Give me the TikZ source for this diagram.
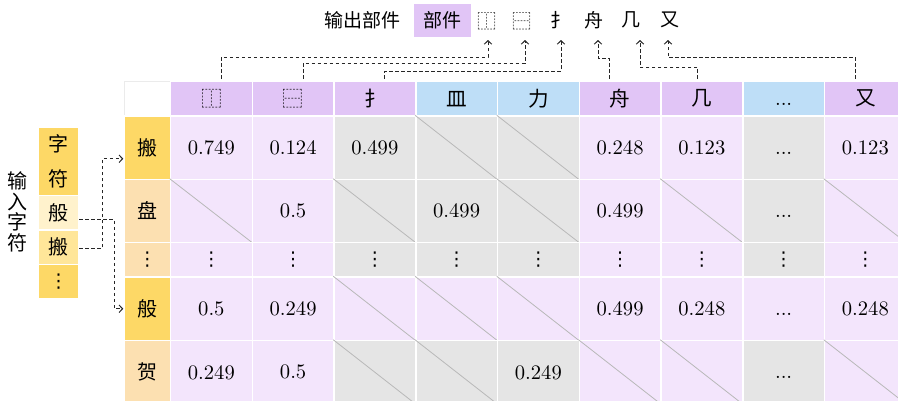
\documentclass[tikz,border=0pt]{standalone}
\usepackage{fontspec}
\newfontfamily\cjk{Noto Sans CJK SC}
\newfontfamily\numfont{lmroman10-regular.otf}
\newfontfamily\symfont{DejaVu Sans}
\usetikzlibrary{arrows.meta}
\definecolor{hdrP}{HTML}{E1C5F6}
\definecolor{hdrB}{HTML}{BEDEF7}
\definecolor{cellP}{HTML}{F3E5FC}
\definecolor{cellG}{HTML}{E5E5E5}
\definecolor{labY}{HTML}{FDD866}
\definecolor{labO}{HTML}{FCE0B1}
\definecolor{stkPale}{HTML}{FFF2CC}
\definecolor{stkMid}{HTML}{FFE699}
\definecolor{diagc}{HTML}{B8B8B8}
\newcommand{\myvdots}{{\symfont\fontsize{19}{22}\selectfont ⋮}}
\newcommand{\myldots}{{\numfont\fontsize{20.6}{24}\selectfont\vphantom{0}...}}
\newcommand{\datarow}[6]{%
  \node[cellbox, minimum height=#3, minimum width=46.5pt, fill=#5, font=\cjk\fontsize{20}{24}\selectfont] (L#1) at (147.25,#2) {#4};
  \foreach \c/\col/\txt/\dg in {#6}{%
    \node[cellbox, minimum height=#3, fill=\col] (c-#1-\c) at ({129.625+81.75*\c},#2) {\txt};
    \ifnum\dg=1 \draw[diagline] (c-#1-\c.north west) -- (c-#1-\c.south east);\fi
  }%
}
\begin{document}
\begin{tikzpicture}[x=1pt,y=-1pt,
  cellbox/.style={draw=white, line width=1.5pt, minimum width=81.75pt, inner sep=0pt, font=\numfont\fontsize{20.6}{24}\selectfont},
  diagline/.style={draw=diagc, line width=0.8pt},
  conn/.style={draw=black!85, line width=1pt, dash pattern=on 3.5pt off 2.5pt, -{Straight Barb[length=3.5pt,width=7.5pt]}},
  toptxt/.style={inner sep=0pt, font=\cjk\fontsize{19}{22}\selectfont},
  stk/.style={draw=white, line width=1.5pt, minimum width=40pt, inner sep=0pt, font=\cjk\fontsize{20}{24}\selectfont}]
\useasboundingbox (0,0) rectangle (898,400);
\clip (0,0) rectangle (898,400);

% header row
\node[cellbox, minimum height=34.5pt, minimum width=46.5pt, fill=white, draw=black!8, line width=0.8pt] (h0) at (147.25,98.75) {};
\foreach \c/\col/\txt in {1/hdrP/{\cjk ⿰}, 2/hdrP/{\cjk ⿱}, 3/hdrP/{\cjk 扌}, 4/hdrB/{\cjk 皿}, 5/hdrB/{\cjk 力}, 6/hdrP/{\cjk 舟}, 7/hdrP/{\cjk 几}, 8/hdrB/{\myldots}, 9/hdrP/{\cjk 又}}{
  \node[cellbox, minimum height=34.5pt, fill=\col] (h\c) at ({129.625+81.75*\c},98.75) {\txt};
}

% data rows
\datarow{1}{147.75}{63.5pt}{搬}{labY}{1/cellP/0.749/0, 2/cellP/0.124/0, 3/cellG/0.499/0, 4/cellG/{}/1, 5/cellG/{}/1, 6/cellP/0.248/0, 7/cellP/0.123/0, 8/cellG/{\myldots}/0, 9/cellP/0.123/0}
\datarow{2}{211}{63pt}{盘}{labO}{1/cellP/{}/1, 2/cellP/0.5/0, 3/cellG/{}/1, 4/cellG/0.499/0, 5/cellG/{}/1, 6/cellP/0.499/0, 7/cellP/{}/1, 8/cellG/{\myldots}/0, 9/cellP/{}/1}
\datarow{3}{259.75}{34.5pt}{\myvdots}{labO}{1/cellP/{\myvdots}/0, 2/cellP/{\myvdots}/0, 3/cellG/{\myvdots}/0, 4/cellG/{\myvdots}/0, 5/cellG/{\myvdots}/0, 6/cellP/{\myvdots}/0, 7/cellP/{\myvdots}/0, 8/cellG/{\myvdots}/0, 9/cellP/{\myvdots}/0}
\datarow{4}{308.75}{63.5pt}{般}{labY}{1/cellP/0.5/0, 2/cellP/0.249/0, 3/cellP/{}/1, 4/cellP/{}/1, 5/cellP/{}/1, 6/cellP/0.499/0, 7/cellP/0.248/0, 8/cellP/{\myldots}/0, 9/cellP/0.248/0}
\datarow{5}{372.25}{63.5pt}{贺}{labO}{1/cellP/0.249/0, 2/cellP/0.5/0, 3/cellG/{}/1, 4/cellG/{}/1, 5/cellG/0.249/0, 6/cellP/{}/1, 7/cellP/{}/1, 8/cellG/{\myldots}/0, 9/cellP/{}/1}

% left input stack
\node[stk, minimum height=68pt, fill=labY, align=center, font=\cjk\fontsize{20}{35}\selectfont] (s1) at (58.5,161.5) {字\\符};
\node[stk, minimum height=34.5pt, fill=stkPale] (s2) at (58.5,212.75) {般};
\node[stk, minimum height=34.5pt, fill=stkMid] (s3) at (58.5,247.25) {搬};
\node[stk, minimum height=34pt, fill=labY] (s4) at (58.5,281.5) {\myvdots};
\node[inner sep=0pt, align=center, font=\cjk\fontsize{20}{20.7}\selectfont] (inlbl) at (18,212) {输\\入\\字\\符};

\draw[conn] ([yshift=-7pt]s2.east) -- ++(35,0) |- (L4.west);
\draw[conn] ([yshift=-1pt]s3.east) -- ++(23,0) |- ([yshift=-11pt]L1.west);

% top output labels
\node[toptxt] (outlbl) at (362,20) {输出部件};
\node[toptxt, fill=hdrP, minimum width=57pt, minimum height=33pt] (bj) at (442.5,20.5) {部件};
\node[toptxt] (g1) at (487,21) {⿰};
\node[toptxt] (g2) at (522,21) {⿱};
\node[toptxt] (g3) at (560,20) {扌};
\node[toptxt] (g4) at (594,20) {舟};
\node[toptxt] (g5) at (631,20) {几};
\node[toptxt] (g6) at (670,20) {又};
\coordinate (t1) at (488,40);
\coordinate (t2) at (525,40);
\coordinate (t3) at (561,40);
\coordinate (t4) at (598,40);
\coordinate (t5) at (640,40);
\coordinate (t6) at (668,40);

\draw[conn] ([xshift=10pt,yshift=2pt]h1.north) -- ++(0,-21.5) -| (t1);
\draw[conn] ([xshift=10pt,yshift=2pt]h2.north) -- ++(0,-15.5) -| (t2);
\draw[conn] ([xshift=10pt,yshift=2pt]h3.north) -- ++(0,-7.5) -| (t3);
\draw[conn] ([xshift=-11pt,yshift=2pt]h6.north) -- ++(0,-20.5) -| (t4);
\draw[conn] ([xshift=-4pt,yshift=2pt]h7.north) -- ++(0,-11.5) -| (t5);
\draw[conn] ([xshift=-10pt,yshift=2pt]h9.north) -- ++(0,-21.5) -| (t6);
\end{tikzpicture}
\end{document}
